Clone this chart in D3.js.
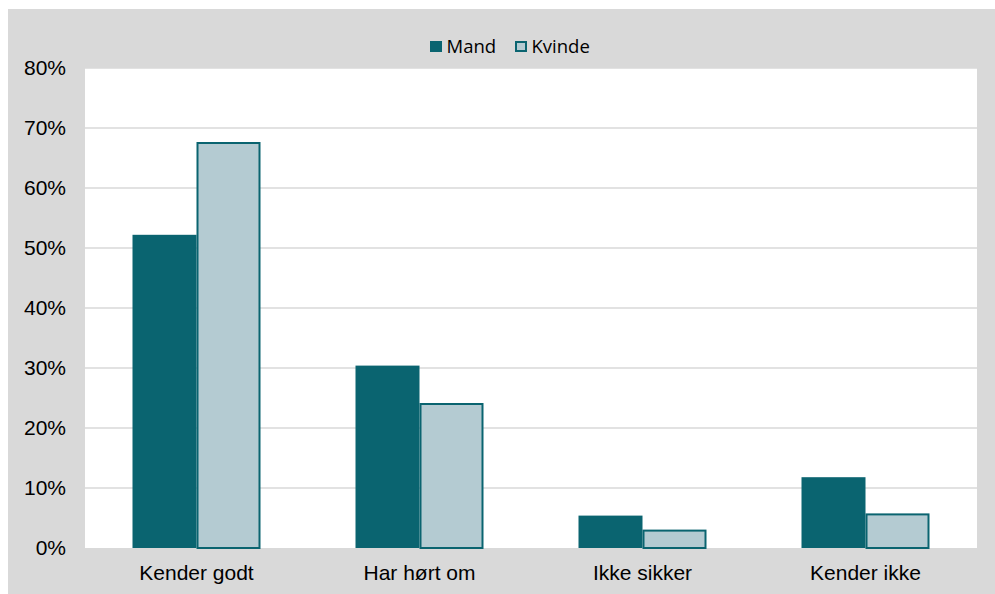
<!DOCTYPE html>
<html>
<head>
<meta charset="utf-8">
<script src="https://cdn.jsdelivr.net/npm/d3@7"></script>
<style>
  body { margin: 0; background: #fff; }
  .tick text { font-family: "Liberation Sans", Arial, sans-serif; font-size: 21px; fill: #000; }
</style>
</head>
<body>
<script>
// data
const categories = ["Kender godt", "Har hørt om", "Ikke sikker", "Kender ikke"];
const seriesNames = ["Mand", "Kvinde"];
const mand = [52.2, 30.4, 5.4, 11.8];
const kvinde = [67.5, 24.0, 2.9, 5.6];
const yTicks = [0, 10, 20, 30, 40, 50, 60, 70, 80];

const W = 995, H = 594;
const teal = "#0a6470", light = "#b4cbd2";
const plot = { left: 85, right: 977, top: 68, bottom: 548 };

const svg = d3.select("body").append("svg").attr("width", W).attr("height", H);

// frame
svg.append("rect").attr("x", 8).attr("y", 9).attr("width", W - 8).attr("height", H - 9).attr("fill", "#d9d9d9");
svg.append("rect")
  .attr("x", plot.left).attr("y", plot.top)
  .attr("width", plot.right - plot.left).attr("height", plot.bottom - plot.top)
  .attr("fill", "#fff");

const x = d3.scaleBand().domain(categories).range([plot.left, plot.right]).paddingInner(0.426).paddingOuter(0.213);
const xs = d3.scaleBand().domain(seriesNames).range([0, x.bandwidth()]);
const y = d3.scaleLinear().domain([0, 80]).range([plot.bottom, plot.top]);

// gridlines
svg.append("g")
  .selectAll("line")
  .data(yTicks.slice(1))
  .enter()
  .append("line")
  .attr("x1", plot.left).attr("x2", plot.right)
  .attr("y1", (d) => y(d)).attr("y2", (d) => y(d))
  .attr("stroke", "#d9d9d9").attr("stroke-width", 1.5);

// bars
const rows = categories.map((c, i) => ({ cat: c, vals: [mand[i], kvinde[i]] }));
const grp = svg.append("g")
  .selectAll("g")
  .data(rows)
  .enter()
  .append("g")
  .attr("transform", (d) => `translate(${x(d.cat)},0)`);

grp.selectAll("rect")
  .data((d) => d.vals.map((v, j) => ({ s: seriesNames[j], v })))
  .enter()
  .append("rect")
  .attr("x", (d) => xs(d.s) + (d.s === "Kvinde" ? 1 : 0))
  .attr("y", (d) => y(d.v))
  .attr("width", (d) => xs.bandwidth() - (d.s === "Kvinde" ? 2 : 0))
  .attr("height", (d) => y(0) - y(d.v))
  .attr("fill", (d) => (d.s === "Mand" ? teal : light))
  .attr("stroke", (d) => (d.s === "Mand" ? "none" : teal))
  .attr("stroke-width", 2);

// axes
const yAxis = svg.append("g")
  .attr("transform", `translate(${plot.left},0)`)
  .call(d3.axisLeft(y).tickValues(yTicks).tickFormat((d) => d + "%").tickSize(0).tickPadding(19));
yAxis.select(".domain").remove();

const xAxis = svg.append("g")
  .attr("transform", `translate(0,${plot.bottom})`)
  .call(d3.axisBottom(x).tickSize(0).tickPadding(17));
xAxis.select(".domain").remove();

// legend
const legend = svg.append("g").attr("font-family", "'Open Sans', 'Noto Sans', sans-serif").attr("font-size", 18.5);
const legX = [430, 515];
seriesNames.forEach((s, i) => {
  legend.append("rect")
    .attr("x", legX[i] + (i ? 1 : 0)).attr("y", 41 + (i ? 1 : 0))
    .attr("width", 12 - (i ? 2 : 0)).attr("height", 11 - (i ? 2 : 0))
    .attr("fill", i ? light : teal)
    .attr("stroke", i ? teal : "none").attr("stroke-width", 2);
  legend.append("text")
    .attr("x", legX[i] + 16.5).attr("y", 52.5)
    .attr("fill", "#000")
    .text(s);
});
</script>
</body>
</html>
